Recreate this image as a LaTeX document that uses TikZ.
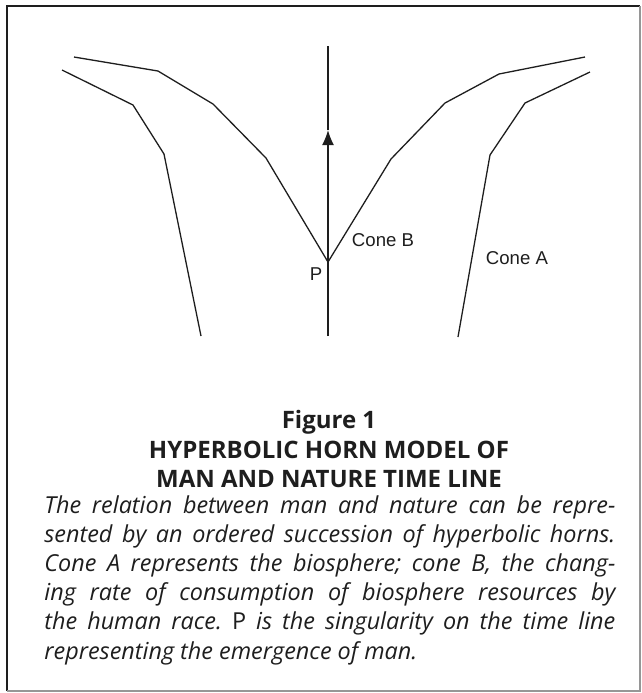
\documentclass[tikz,border=0pt]{standalone}
\usepackage{fontspec}
\setmainfont{Open Sans}
\setsansfont{Liberation Sans}
\usetikzlibrary{arrows.meta}
\definecolor{inkColor}{RGB}{30, 30, 30}
\definecolor{edgeColor}{RGB}{150, 150, 150}

\tikzset{
  horn/.style={inkColor, line width=0.65pt, line join=round},
  timeline/.style={inkColor, line width=0.75pt},
  conelabel/.style={inkColor, font=\sffamily\fontsize{9.3}{11}\selectfont, inner sep=0pt},
  heading/.style={inkColor, font=\bfseries\fontsize{12}{12}\selectfont, inner sep=0pt, anchor=base},
  captiontext/.style={inkColor, font=\itshape\fontsize{11.7}{14.6}\selectfont, inner sep=0pt,
    text width=285.5pt, align=justify, anchor=base west}
}

\begin{document}
\begin{tikzpicture}[x=0.5pt, y=-0.5pt]
  \useasboundingbox (0,0) rectangle (642,693);
  % Frame
  \draw[inkColor, line width=1pt] (7,691) -- (7,6) -- (640,6);
  \draw[edgeColor, line width=0.6pt] (640,6) -- (640,691) -- (7,691);

  % Points of the time line
  \coordinate (P) at (328,262);
  \coordinate (T0) at (328,336);
  \coordinate (Tip) at (328,130);
  \coordinate (T1) at (328,46);

  % Cone B
  \draw[horn] (74,57) -- (158,71) -- (213,104) -- (266,158) -- (P)
    -- (391,159) -- (445,103) -- (499,74) -- (585,57);

  % Cone A
  \draw[horn] (62,70) -- (133,105) -- (164,154) -- (201,336);
  \draw[horn] (590,72) -- (525,103) -- (490,155) -- (458,337);

  % Time line with arrow
  \draw[timeline, -{Latex[length=7.5pt, width=6pt]}] (T0) -- (Tip);
  \draw[timeline] (Tip) -- (T1);

  % Labels
  \node[conelabel] (coneB) at (383,240) {Cone B};
  \node[conelabel] (coneA) at (517,258) {Cone A};
  \node[conelabel] (pointP) at (316,274) {P};

  % Caption
  \node[heading] (figno) at (329,428) {Figure 1};
  \node[heading] (titleA) at (329,458) {HYPERBOLIC HORN MODEL OF};
  \node[heading] (titleB) at (329,487) {MAN AND NATURE TIME LINE};
  \node[captiontext] (body) at (44,513) {\tolerance=10000\hyphenpenalty=10000\frenchspacing
    The relation between man and nature can be repre-\linebreak
    sented by an ordered succession of hyperbolic horns.\linebreak
    Cone A represents the biosphere; cone B, the chang-\linebreak
    ing rate of consumption of biosphere resources by\linebreak
    the human race. {\upshape P} is the singularity on the time line\linebreak
    representing the emergence of man.};
\end{tikzpicture}
\end{document}
